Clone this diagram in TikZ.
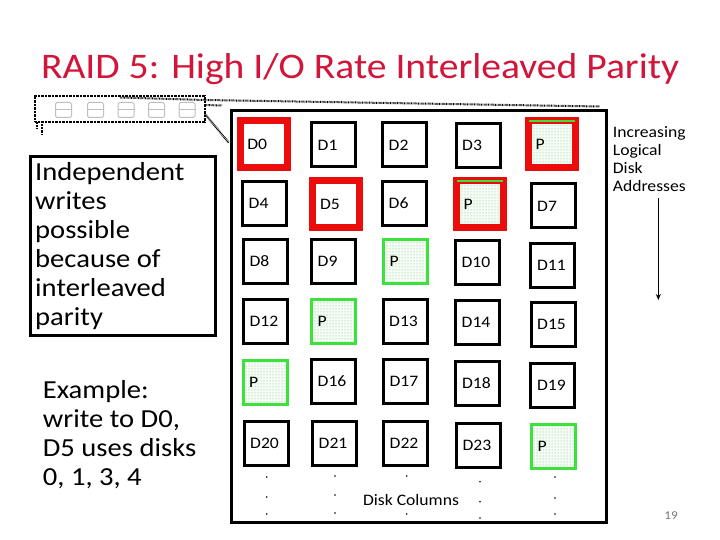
\documentclass[tikz,border=0pt]{standalone}
\usepackage{fontspec}
\setmainfont{Carlito}[FakeStretch=1.1]
\usetikzlibrary{patterns,arrows.meta}
\definecolor{titlered}{RGB}{208,22,58}
\definecolor{pgreen}{RGB}{60,225,60}
\definecolor{bred}{RGB}{235,12,12}
\definecolor{pnum}{RGB}{120,120,120}
\definecolor{diskgray}{RGB}{190,190,190}
\tikzset{
  dbox/.style={draw=black, line width=3pt, minimum size=44pt, inner sep=0pt, fill=white},
  pbox/.style={draw=pgreen, line width=3pt, minimum size=44pt, inner sep=0pt, preaction={fill=green!5}, pattern=dots, pattern color=gray!80},
  rdbox/.style={draw=bred, line width=7pt, minimum size=47pt, inner sep=0pt, fill=white},
  rpbox/.style={draw=bred, line width=7pt, minimum size=47pt, inner sep=0pt, preaction={fill=green!5}, pattern=dots, pattern color=gray!80},
  lab/.style={anchor=west, inner sep=0pt, font=\fontsize{16}{18}\selectfont},
  hatch/.style={line width=2pt, dash pattern=on 0.7pt off 0.7pt},
  diskicon/.style={draw=diskgray, line width=1pt, rounded corners=1.5pt, minimum width=16pt, minimum height=15pt, inner sep=0pt},
}
\newcommand\dcell[4]{\node[dbox] (#1) at (#2,#3) {}; \node[lab] (#1t) at ([xshift=7.5pt]#1.west) {#4};}
\newcommand\pcell[3]{\node[pbox] (#1) at (#2,#3) {}; \node[lab] (#1t) at ([xshift=7.5pt]#1.west) {P};}
\newcommand\rdcell[4]{\node[rdbox] (#1) at (#2,#3) {}; \node[lab] (#1t) at ([xshift=10.5pt]#1.west) {#4};}
\newcommand\rpcell[3]{\node[rpbox] (#1) at (#2,#3) {}; \draw[pgreen, line width=2pt] ([xshift=4pt,yshift=-4.5pt]#1.north west) -- ([xshift=-4pt,yshift=-4.5pt]#1.north east); \node[lab] (#1t) at ([xshift=10.5pt]#1.west) {P};}
\begin{document}
\begin{tikzpicture}[x=1pt,y=-1pt]
\useasboundingbox[fill=white] (0,0) rectangle (720,540);
% title
\node[anchor=base, inner sep=0pt, text=titlered, font=\fontsize{36}{40}\selectfont] (title) at (360,79) {RAID 5: High I/O Rate Interleaved Parity};
% disk array frame
\node[hatch, draw, minimum width=170pt, minimum height=26pt, inner sep=0pt] (frame) at (120,109) {};
\foreach \i/\xx in {1/63.5,2/95.5,3/126,4/156.5,5/187}{
  \node[diskicon] (disk\i) at (\xx,110) {};
  \draw[diskgray, line width=1pt] (disk\i.west) -- (disk\i.east);
}
% main box
\node[draw, line width=3pt, minimum width=375pt, minimum height=411pt, inner sep=0pt] (main) at (418.5,316.5) {};
% perspective lines
\coordinate (f1) at (120,97.5);
\coordinate (f2) at (205,100);
\coordinate (m1) at (600,106.5);
\draw[hatch] (f1) -- (f2) -- (m1);
\coordinate (f3) at (205,105);
\coordinate (f4) at (222,105.5);
\draw[hatch] (f3) -- (f4);
\coordinate (f5) at (205,114);
\coordinate (m2) at (229,143);
\draw[hatch] (f5) -- (m2);
\coordinate (l1) at (37,122);
\coordinate (l2) at (37,128);
\coordinate (l3) at (41.5,124);
\coordinate (l4) at (41.5,135);
\draw[hatch] (l1) -- (l2);
\draw[hatch] (l3) -- (l4);
% cells
\rdcell{c00}{263.7}{144}{D0}
\dcell{c01}{333.5}{145}{D1}
\dcell{c02}{404.5}{145}{D2}
\dcell{c03}{478}{145.5}{D3}
\rpcell{c04}{552}{144}
\dcell{c10}{264.5}{203.5}{D4}
\rdcell{c11}{336.3}{204}{D5}
\dcell{c12}{404.5}{203.5}{D6}
\rpcell{c13}{480}{204}
\dcell{c14}{553}{206}{D7}
\dcell{c20}{265.3}{261.5}{D8}
\dcell{c21}{333.5}{261.5}{D9}
\pcell{c22}{405.3}{261.5}
\dcell{c23}{477.3}{262.5}{D10}
\dcell{c24}{552.8}{265}{D11}
\dcell{c30}{265.3}{321.3}{D12}
\pcell{c31}{333.5}{321}
\dcell{c32}{405}{321.3}{D13}
\dcell{c33}{477.5}{322}{D14}
\dcell{c34}{553}{324}{D15}
\pcell{c40}{265}{382}
\dcell{c41}{333.5}{381.5}{D16}
\dcell{c42}{405.3}{381.5}{D17}
\dcell{c43}{477.8}{383}{D18}
\dcell{c44}{552.8}{385}{D19}
\dcell{c50}{266}{443.5}{D20}
\dcell{c51}{334.5}{443.5}{D21}
\dcell{c52}{405.5}{443.5}{D22}
\dcell{c53}{478.3}{445}{D23}
\pcell{c54}{553.5}{446.5}
% continuation dots
\foreach \xx/\ya/\yb/\yc in {266.7/477/497/514, 335/476/495/513, 480/481.7/501.7/518, 555/477/498/514}{
  \fill (\xx,\ya) circle (0.9pt);
  \fill (\xx,\yb) circle (0.9pt);
  \fill (\xx,\yc) circle (0.9pt);
}
\fill (406.7,476) circle (0.9pt);
\fill (406.7,514) circle (0.9pt);
\node[anchor=base, inner sep=0pt, font=\fontsize{16}{18}\selectfont] (cols) at (411,505) {Disk Columns};
% left texts
\node[draw, line width=3pt, minimum width=185pt, minimum height=179pt, inner sep=0pt] (lbox) at (123,246) {};
\node[anchor=north west, align=left, inner sep=0pt, font=\fontsize{26}{29}\selectfont] (ltext) at (35,162) {Independent\\writes\\possible\\because of\\interleaved\\parity};
\node[anchor=north west, align=left, inner sep=0pt, font=\fontsize{26}{29}\selectfont] (ex) at (42.7,380.5) {Example:\\write to D0,\\D5 uses disks\\0, 1, 3, 4};
% right text and arrow
\node[anchor=north west, align=left, inner sep=0pt, font=\fontsize{16}{18}\selectfont] (addr) at (612.7,126) {Increasing\\Logical\\Disk\\Addresses};
\coordinate (a1) at (658.3,198);
\coordinate (a2) at (658.3,300);
\draw[line width=1.5pt, -{Stealth[length=6pt,width=5pt]}] (a1) -- (a2);
% page number
\node[anchor=base, inner sep=0pt, text=pnum, font=\fontsize{12}{14}\selectfont] (pg) at (671,519) {19};
\end{tikzpicture}
\end{document}
